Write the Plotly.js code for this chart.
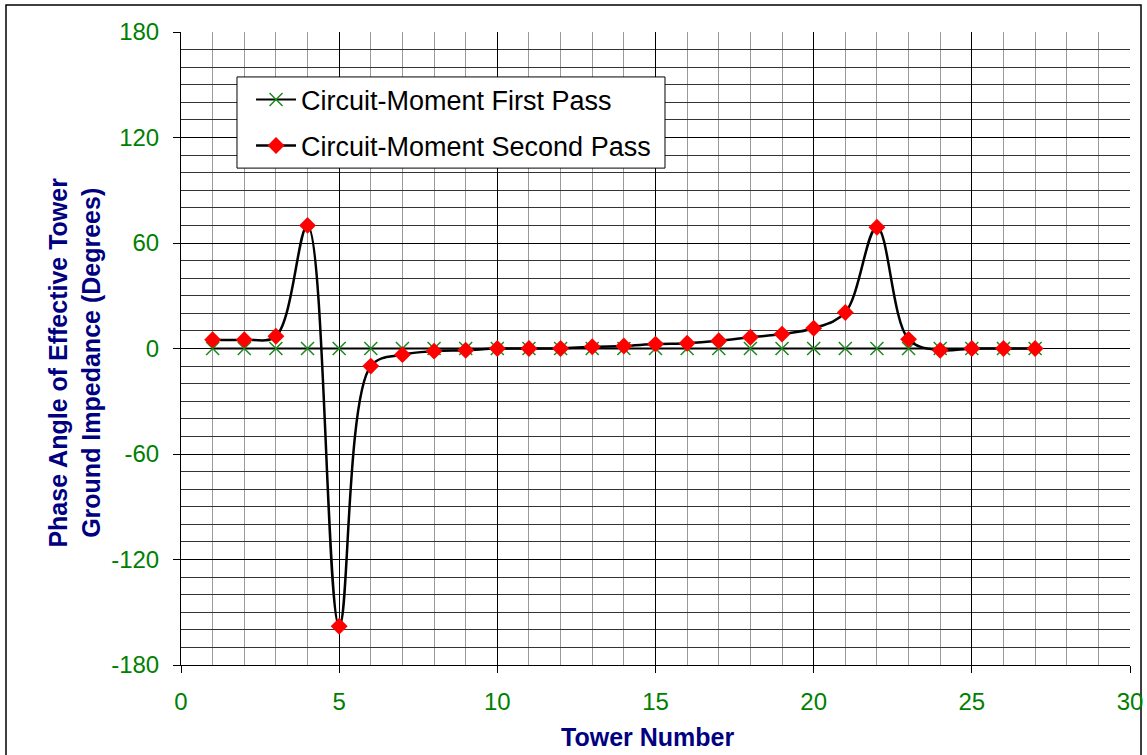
<!DOCTYPE html>
<html>
<head>
<meta charset="utf-8">
<script src="https://cdn.plot.ly/plotly-3.0.1.min.js"></script>
<style>
html,body{margin:0;padding:0;background:#fff;}
#chart{width:1147px;height:755px;}
</style>
</head>
<body>
<div id="chart"></div>
<script>
var towers = [1,2,3,4,5,6,7,8,9,10,11,12,13,14,15,16,17,18,19,20,21,22,23,24,25,26,27];
var firstPass = [0,0,0,0,0,0,0,0,0,0,0,0,0,0,0,0,0,0,0,0,0,0,0,0,0,0,0];
var secondPass = [5,5,7,70,-158,-10,-3.5,-1.5,-1,0,0,0,1,1.4,2.5,3,4.4,6.4,8.2,11.5,20.5,69,5.2,-1,0,0,0];
var seriesNames = ['Circuit-Moment First Pass','Circuit-Moment Second Pass'];
var yTickVals = [-180,-120,-60,0,60,120,180];
var yTickText = ['-180','-120','-60','0','60','120','180'];
var xTitle = 'Tower Number';
var yTitle = 'Phase Angle of Effective Tower<br>Ground Impedance (Degrees)';

var FONT = 'Liberation Sans, Arial, sans-serif';

var traces = [
  {
    x: towers, y: firstPass, name: seriesNames[0], type: 'scatter', mode: 'lines+markers',
    legendgroup: 'a',
    line: {color: '#000', width: 2, shape: 'spline'},
    marker: {symbol: 'x-thin-open', size: 13, color: '#1a8a1a', line: {color: '#1a8a1a', width: 1.5}}
  },
  {
    x: towers, y: secondPass, name: seriesNames[1], type: 'scatter', mode: 'lines+markers',
    legendgroup: 'b',
    line: {color: '#000', width: 2.5, shape: 'spline', smoothing: 1},
    marker: {symbol: 'diamond', size: 13, color: '#ff0000', line: {width: 0}}
  }
];

var layout = {
  width: 1147, height: 755,
  margin: {l: 181, r: 17, t: 32, b: 90},
  paper_bgcolor: '#fff', plot_bgcolor: '#fff',
  showlegend: true,
  legend: {
    x: 0.0738, y: 0.9315, xanchor: 'left', yanchor: 'top',
    bgcolor: 'rgba(0,0,0,0)', borderwidth: 0,
    font: {family: FONT, size: 27, color: '#000'},
    tracegroupgap: 8, itemwidth: 40
  },
  xaxis: {
    range: [0, 30], dtick: 5, tick0: 0,
    showline: true, linecolor: '#000', linewidth: 1,
    ticks: 'outside', ticklen: 7, tickcolor: '#000',
    ticklabelstandoff: 8,
    showgrid: true, gridcolor: '#000', gridwidth: 1,
    minor: {dtick: 1, showgrid: true, gridcolor: '#9a9a9a', gridwidth: 1, ticks: ''},
    zeroline: false,
    tickfont: {family: FONT, size: 24, color: '#008000'}
  },
  yaxis: {
    range: [-180, 180], tickmode: 'array', tickvals: yTickVals, ticktext: yTickText,
    showline: true, linecolor: '#000', linewidth: 1,
    ticks: 'outside', ticklen: 7, tickcolor: '#000',
    ticklabelstandoff: 9,
    showgrid: true, gridcolor: '#000', gridwidth: 1,
    minor: {dtick: 10, tick0: 0, showgrid: true, gridcolor: '#333', gridwidth: 1, ticks: ''},
    zeroline: true, zerolinecolor: '#000', zerolinewidth: 1,
    tickfont: {family: FONT, size: 24, color: '#008000'}
  },
  annotations: [
    {text: xTitle, xref: 'paper', yref: 'paper', x: 0.4916, y: -0.1145, xanchor: 'center', yanchor: 'middle',
     showarrow: false, font: {family: FONT, size: 25, color: '#000080', weight: 'bold'}},
    {text: yTitle, xref: 'paper', yref: 'paper', x: -0.1122, y: 0.477, xanchor: 'center', yanchor: 'middle',
     textangle: -90, showarrow: false, font: {family: FONT, size: 25, color: '#000080', weight: 'bold'}}
  ],
  shapes: [
    {type: 'rect', xref: 'paper', yref: 'paper', x0: -0.1844, x1: 1.0116, y0: -0.16, y1: 1.0427,
     line: {color: '#000', width: 1.5}, fillcolor: 'rgba(0,0,0,0)', layer: 'below'},
    {type: 'rect', xref: 'paper', yref: 'paper', x0: 0.059, x1: 0.510, y0: 0.785, y1: 0.929,
     line: {color: '#000', width: 1}, fillcolor: '#fff', layer: 'above'}
  ]
};

Plotly.newPlot('chart', traces, layout, {displayModeBar: false, staticPlot: true});
</script>
</body>
</html>
